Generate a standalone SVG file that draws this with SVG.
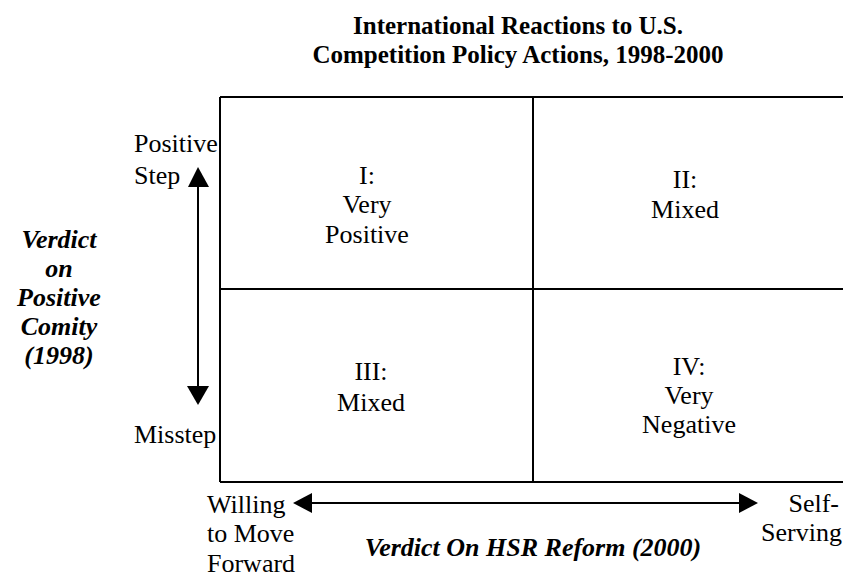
<svg xmlns="http://www.w3.org/2000/svg" width="843" height="577" viewBox="0 0 843 577">
<style>
text{font-family:"Liberation Serif","Times New Roman",serif;font-size:26px;fill:#000}
.t{font-weight:bold;font-size:25px;text-anchor:middle}
.bi{font-weight:bold;font-style:italic}
.c{text-anchor:middle}
.r{text-anchor:end}
.ln{stroke:#000;stroke-width:2;fill:none}
.ah{fill:#000}
</style>
<rect width="843" height="577" fill="#fff"/>
<g id="title">
<text class="t" x="518" y="34">International Reactions to U.S.</text>
<text class="t" x="518" y="63">Competition Policy Actions, 1998-2000</text>
</g>
<g id="grid">
<path class="ln" d="M220,97H843M220,289H843M220,482H843M220,97V482M533,97V482"/>
</g>
<g id="q1">
<text class="c" x="367" y="184">I:</text>
<text class="c" x="367" y="213">Very</text>
<text class="c" x="367" y="243">Positive</text>
</g>
<g id="q2">
<text class="c" x="685" y="188">II:</text>
<text class="c" x="685" y="218">Mixed</text>
</g>
<g id="q3">
<text class="c" x="371" y="380">III:</text>
<text class="c" x="371" y="411">Mixed</text>
</g>
<g id="q4">
<text class="c" x="689" y="375">IV:</text>
<text class="c" x="689" y="404">Very</text>
<text class="c" x="689" y="433">Negative</text>
</g>
<g id="y-axis-label">
<text class="bi c" x="59" y="248">Verdict</text>
<text class="bi c" x="59" y="277">on</text>
<text class="bi c" x="59" y="306">Positive</text>
<text class="bi c" x="59" y="335">Comity</text>
<text class="bi c" x="59" y="364">(1998)</text>
</g>
<g id="y-ends">
<text x="134" y="152">Positive</text>
<text x="134" y="184">Step</text>
<text x="134" y="443">Misstep</text>
</g>
<g id="x-ends">
<text x="207" y="513">Willing</text>
<text x="207" y="542">to Move</text>
<text x="207" y="572">Forward</text>
<text class="r" x="839" y="512">Self-</text>
<text class="r" x="842" y="541">Serving</text>
</g>
<g id="x-axis-label">
<text class="bi c" x="533" y="556">Verdict On HSR Reform (2000)</text>
</g>
<g id="connectors">
<path class="ln" d="M198,185V388"/>
<path class="ah" d="M198,167L188,187H209Z"/>
<path class="ah" d="M198,405L187,386H209Z"/>
<path class="ln" d="M310,503H742"/>
<path class="ah" d="M293,503L312,493V513Z"/>
<path class="ah" d="M758,503L739,493V513Z"/>
</g>
</svg>
